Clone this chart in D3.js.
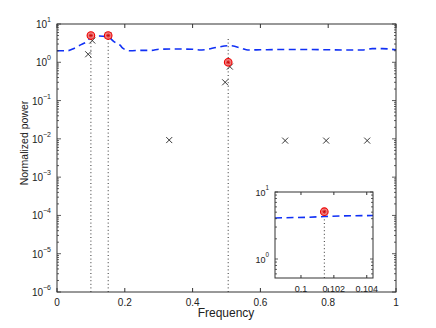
<!DOCTYPE html>
<html><head><meta charset="utf-8">
<script src="https://cdn.jsdelivr.net/npm/d3@7"></script>
<style>
body{margin:0;background:#fff;}
text{font-family:"Liberation Sans",Arial,Helvetica,sans-serif;fill:#222;}
</style></head>
<body><svg id="c" width="436" height="328"></svg>
<script>
// ---- data ----
const bgFreq = [0, 0.03, 0.05, 0.068, 0.09, 0.1, 0.125, 0.151, 0.168, 0.186, 0.195, 0.215, 0.25, 0.28, 0.3, 0.35, 0.4, 0.42, 0.44, 0.471, 0.51, 0.545, 0.563, 0.6, 0.65, 0.7, 0.75, 0.8, 0.85, 0.9, 0.93, 0.96, 1.0];
const bgPower = [2.0, 2.0, 2.3, 2.8, 3.6, 4.5, 4.85, 4.6, 3.45, 2.8, 2.3, 2.0, 2.05, 2.05, 2.2, 2.22, 2.2, 2.1, 2.15, 2.46, 2.71, 2.32, 2.1, 2.12, 2.15, 2.15, 2.15, 2.12, 2.1, 2.1, 2.27, 2.27, 2.1];
const peakFreq = [0.1, 0.151, 0.505];
const peakPower = [5.0, 5.0, 1.0];
const stemTop = [4.5, 4.5, 4.5];
const crossFreq = [0.092, 0.104, 0.151, 0.331, 0.496, 0.51, 0.673, 0.794, 0.915];
const crossPower = [1.62, 3.7, 5.0, 0.0093, 0.30, 0.77, 0.009, 0.009, 0.009];
const insetFreq = [0.09842, 0.1005, 0.1014, 0.1025, 0.10438];
const insetPower = [4.1, 4.2, 4.3, 4.4, 4.45];
const insetPeakFreq = [0.10142];
const insetPeakPower = [5.08];
const xTicks = [0, 0.2, 0.4, 0.6, 0.8, 1];
const yExp = [-6, -5, -4, -3, -2, -1, 0, 1];
const insetXTicks = [0.1, 0.102, 0.104];
const insetYExp = [0, 1];

const svg = d3.select("#c");
const axisColor = "#333";
const blue = "#1030f5";

function logTicks(y, lo, hi) {
  const t = [];
  for (let e = Math.floor(Math.log10(lo)); e <= Math.ceil(Math.log10(hi)); e++) {
    for (let m = 1; m <= 9; m++) {
      const v = m * Math.pow(10, e);
      if (v >= lo * 0.9999 && v <= hi * 1.0001) t.push({v, major: m === 1});
    }
  }
  return t;
}

function drawFrame(g, x, y, xt, yLo, yHi, xFmt, major, minor, labelSize) {
  const [x0, x1] = x.range(), [y0, y1] = y.range();
  g.append("rect").attr("x", x0).attr("y", y1).attr("width", x1 - x0).attr("height", y0 - y1)
    .attr("fill", "#fff").attr("stroke", "none");
  return function finish() {
    const f = g.append("g");
    f.append("rect").attr("x", x0).attr("y", y1).attr("width", x1 - x0).attr("height", y0 - y1)
      .attr("fill", "none").attr("stroke", axisColor).attr("stroke-width", 1);
    xt.forEach(v => {
      const px = x(v);
      f.append("line").attr("x1", px).attr("x2", px).attr("y1", y0).attr("y2", y0 - major).attr("stroke", axisColor);
      f.append("line").attr("x1", px).attr("x2", px).attr("y1", y1).attr("y2", y1 + major).attr("stroke", axisColor);
      f.append("text").attr("x", px).attr("y", y0 + 14).attr("text-anchor", "middle")
        .attr("font-size", labelSize).text(xFmt(v));
    });
    logTicks(y, yLo, yHi).forEach(t => {
      const py = y(t.v), L = t.major ? major : minor;
      f.append("line").attr("x1", x0).attr("x2", x0 + L).attr("y1", py).attr("y2", py).attr("stroke", axisColor).attr("stroke-width", 0.8);
      f.append("line").attr("x1", x1).attr("x2", x1 - L).attr("y1", py).attr("y2", py).attr("stroke", axisColor).attr("stroke-width", 0.8);
    });
  };
}

function yLabel(g, x0, py, e, size) {
  const t = g.append("text").attr("x", x0 - 6).attr("y", py + 4).attr("text-anchor", "end").attr("font-size", size);
  t.append("tspan").text("10");
  t.append("tspan").attr("dy", -6).attr("font-size", size * 0.7).text(String(e).replace("-", "\u2212"));
}

function drawPeak(g, px, py) {
  g.append("circle").attr("cx", px).attr("cy", py).attr("r", 3.8)
    .attr("fill", "#f08080").attr("stroke", "#e00").attr("stroke-width", 1.1);
  g.append("path").attr("d", `M${px-2},${py}H${px+2}M${px},${py-2}V${py+2}M${px-1.5},${py-1.5}L${px+1.5},${py+1.5}M${px-1.5},${py+1.5}L${px+1.5},${py-1.5}`)
    .attr("stroke", "#c00").attr("stroke-width", 0.7);
}

function drawCross(g, px, py) {
  const s = 3;
  g.append("path").attr("d", `M${px-s},${py-s}L${px+s},${py+s}M${px-s},${py+s}L${px+s},${py-s}`)
    .attr("stroke", "#222").attr("stroke-width", 0.9);
}

// ---- main axes ----
const x = d3.scaleLinear().domain([0, 1]).range([57, 396]);
const y = d3.scaleLog().domain([1e-6, 10]).range([292, 24]);
const main = svg.append("g");
const finishMain = drawFrame(main, x, y, xTicks, 1e-6, 10, d => d3.format("")(d), 4, 2, 10);

// stems
peakFreq.forEach((f, i) => {
  main.append("line").attr("x1", x(f)).attr("x2", x(f)).attr("y1", y(1e-6)).attr("y2", y(stemTop[i]))
    .attr("stroke", "#333").attr("stroke-width", 1).attr("stroke-dasharray", "1,2.6");
});
// background dashed line
const line = d3.line().x((d, i) => x(bgFreq[i])).y(d => y(d)).curve(d3.curveMonotoneX);
main.append("path").datum(bgPower).attr("d", line).attr("fill", "none")
  .attr("stroke", blue).attr("stroke-width", 1.6).attr("stroke-dasharray", "7,4.5");
crossFreq.forEach((f, i) => drawCross(main, x(f), y(crossPower[i])));
peakFreq.forEach((f, i) => drawPeak(main, x(f), y(peakPower[i])));
finishMain();
yExp.forEach(e => yLabel(main, 57, y(Math.pow(10, e)), e, 10));

main.append("text").attr("x", 226).attr("y", 317).attr("text-anchor", "middle").attr("font-size", 12).text("Frequency");
main.append("text").attr("transform", "translate(28,143) rotate(-90)").attr("text-anchor", "middle").attr("font-size", 10.5).text("Normalized power");

// ---- inset ----
const xi = d3.scaleLinear().domain([0.09842, 0.10438]).range([275, 373]);
const yi = d3.scaleLog().domain([10 / Math.pow(10, 86 / 67), 10]).range([278, 192]);
const ins = svg.append("g");
const finishIns = drawFrame(ins, xi, yi, insetXTicks, yi.domain()[0], 10, d => d3.format("")(d), 3, 2, 9);
insetPeakFreq.forEach(f => {
  ins.append("line").attr("x1", xi(f)).attr("x2", xi(f)).attr("y1", 278).attr("y2", yi(insetPeakPower[0]))
    .attr("stroke", "#333").attr("stroke-width", 1).attr("stroke-dasharray", "1,2.6");
});
const lineI = d3.line().x((d, i) => xi(insetFreq[i])).y(d => yi(d));
ins.append("path").datum(insetPower).attr("d", lineI).attr("fill", "none")
  .attr("stroke", blue).attr("stroke-width", 1.6).attr("stroke-dasharray", "7,4.5");
insetPeakFreq.forEach((f, i) => drawPeak(ins, xi(f), yi(insetPeakPower[i])));
finishIns();
insetYExp.forEach(e => yLabel(ins, 275, yi(Math.pow(10, e)), e, 9));
</script></body></html>
